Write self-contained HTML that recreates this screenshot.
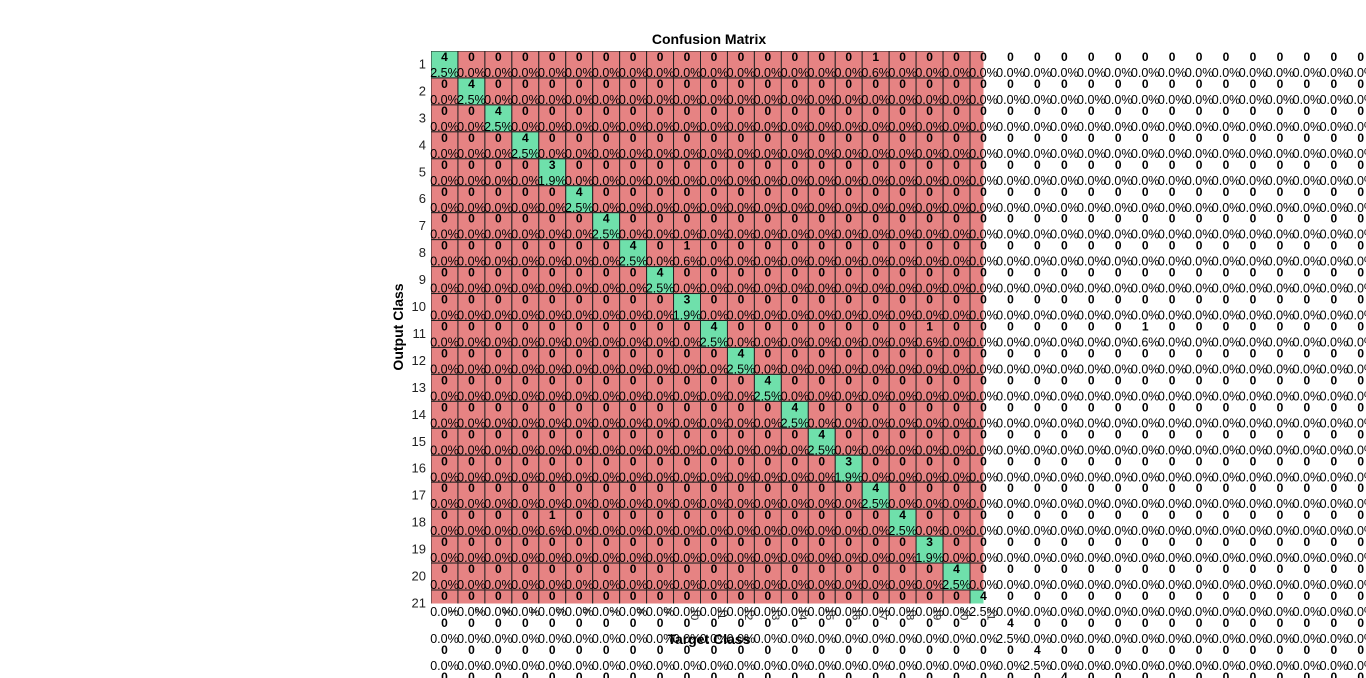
<!DOCTYPE html>
<html><head><meta charset="utf-8"><style>
html,body{margin:0;padding:0;background:#fff;width:1366px;height:678px;overflow:hidden}
svg{display:block;font-family:"Liberation Sans",sans-serif;overflow:hidden}
</style></head><body>
<svg id="chart" width="1366" height="678" viewBox="0 0 1366 678">
<defs><clipPath id="axclip"><rect x="431" y="51" width="552.5" height="552.5"/></clipPath>
<clipPath id="frame"><rect x="0" y="0" width="1366" height="678"/></clipPath></defs>
<text x="709" y="44" text-anchor="middle" font-size="14" font-weight="bold">Confusion Matrix</text>
<text transform="translate(403,327) rotate(-90)" text-anchor="middle" font-size="14" font-weight="bold">Output Class</text>
<g id="cells" clip-path="url(#axclip)"></g>
<g id="texts" clip-path="url(#frame)"></g>
<g id="ticks"></g>
<text x="709" y="644" text-anchor="middle" font-size="14" font-weight="bold">Target Class</text>
</svg>
<script>
const numClasses = 40;
const diagCounts = [4,4,4,4,3,4,4,4,4,3,4,4,4,4,4,3,4,4,3,4,4,4,4,4,4,4,4,4,4,4,4,4,4,4,4,4,4,4,4,4];
const offRows = [1,8,11,11,18];
const offCols = [17,10,19,27,5];
const offCounts = [1,1,1,1,1];
const totalSamples = 160;

const X0=431, Y0=51, W=26.95;
const xPos = c => X0 + (c-1)*W;
const yPos = r => Y0 + (r-1)*W;
const NS="http://www.w3.org/2000/svg";
const cellsG=document.getElementById('cells');
const textsG=document.getElementById('texts');
const ticksG=document.getElementById('ticks');

const M=[];
for(let r=0;r<numClasses;r++){M.push(new Array(numClasses).fill(0));M[r][r]=diagCounts[r];}
for(let i=0;i<offRows.length;i++){M[offRows[i]-1][offCols[i]-1]=offCounts[i];}

const maxR=24, maxC=35;
for(let r=1;r<=maxR;r++){
  for(let c=1;c<=maxC;c++){
    const v=M[r-1][c-1];
    if(r<=21&&c<=21){
      const rect=document.createElementNS(NS,'rect');
      
      
      rect.setAttribute('x',xPos(c));rect.setAttribute('y',yPos(r));
      rect.setAttribute('width',W);rect.setAttribute('height',W);
      rect.setAttribute('fill',r===c?'#6fe0ab':'#e68383');
      rect.setAttribute('stroke','#222');rect.setAttribute('stroke-width','1');
      cellsG.appendChild(rect);
    }
    const cx=xPos(c)+W/2, ty=yPos(r);
    const t1=document.createElementNS(NS,'text');
    
    
    t1.setAttribute('x',cx);t1.setAttribute('y',ty+10);
    t1.setAttribute('text-anchor','middle');t1.setAttribute('font-size','12');t1.setAttribute('font-weight','bold');
    t1.textContent=v;
    textsG.appendChild(t1);
    const t2=document.createElementNS(NS,'text');
    
    
    t2.setAttribute('x',cx);t2.setAttribute('y',ty+26);
    t2.setAttribute('text-anchor','middle');t2.setAttribute('font-size','12.5');
    t2.textContent=(v/totalSamples*100).toFixed(1)+'%';
    textsG.appendChild(t2);
  }
}
for(let r=1;r<=21;r++){
  const t=document.createElementNS(NS,'text');
  
  
  t.setAttribute('x',426);t.setAttribute('y',yPos(r)+W/2+4);
  t.setAttribute('text-anchor','end');t.setAttribute('font-size','13');t.setAttribute('fill','#222');
  t.textContent=r;
  ticksG.appendChild(t);
}
for(let c=1;c<=21;c++){
  const t=document.createElementNS(NS,'text');
  
  
  const x=xPos(c)+W/2+4, y=608;
  t.setAttribute('transform','translate('+x+','+y+') rotate(90)');
  t.setAttribute('font-size','11');t.setAttribute('fill','#222');
  t.textContent=c;
  ticksG.appendChild(t);
}
</script>
</body></html>
